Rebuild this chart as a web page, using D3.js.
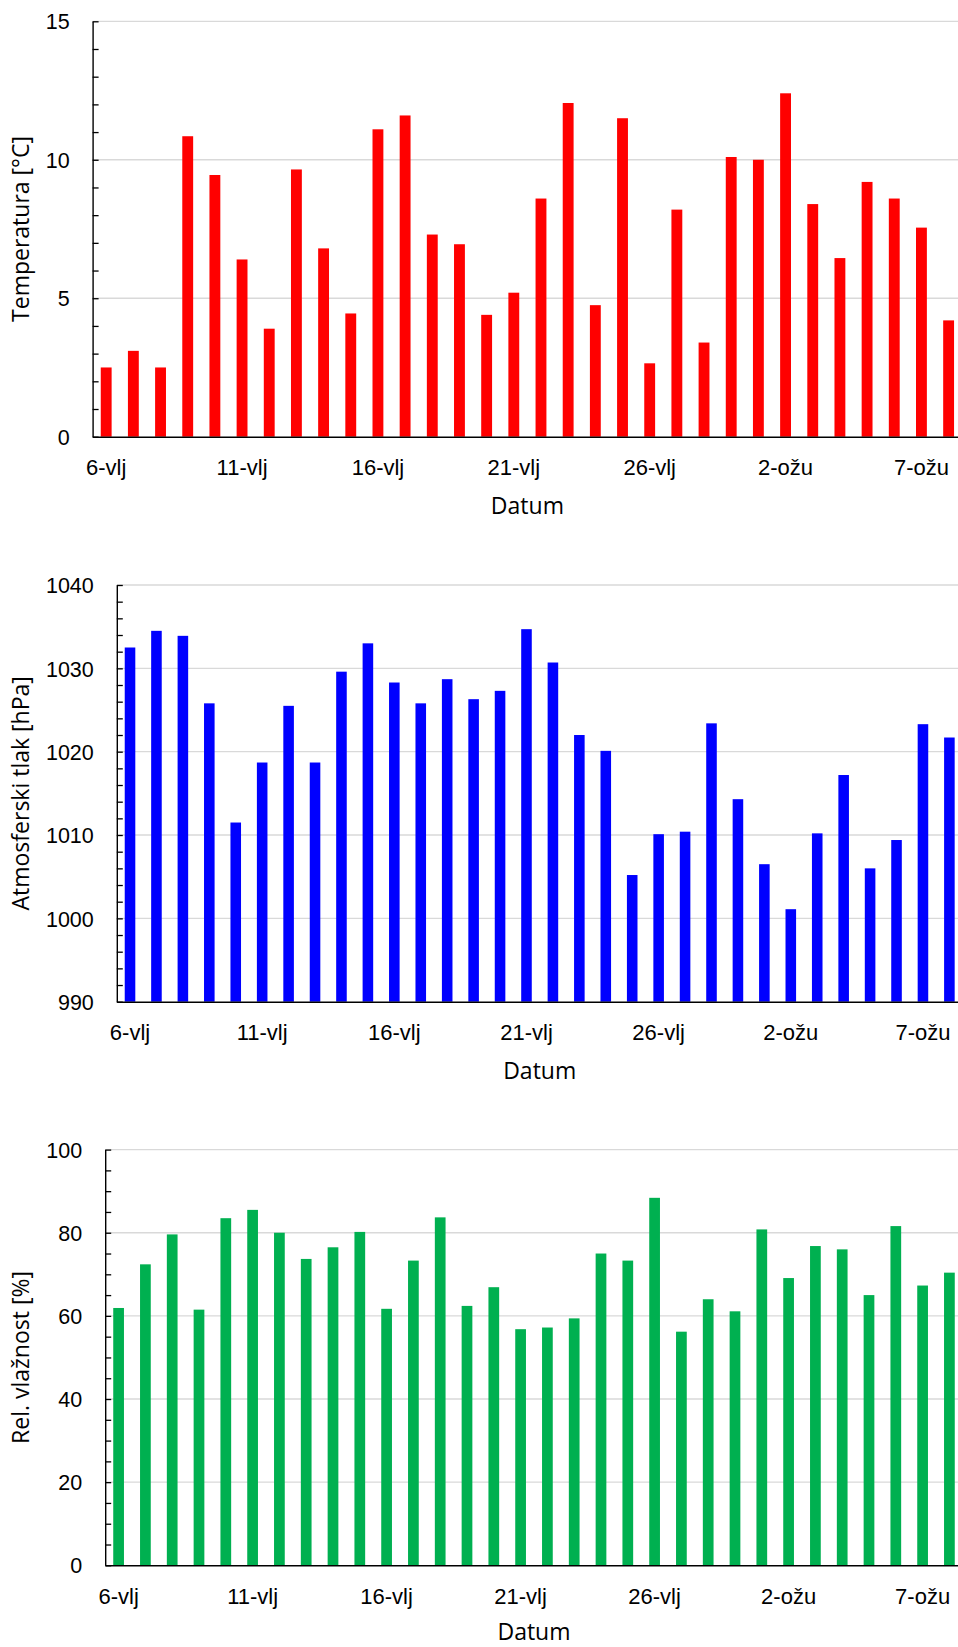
<!DOCTYPE html>
<html>
<head>
<meta charset="utf-8">
<script src="https://cdn.jsdelivr.net/npm/d3@7"></script>
<style>
  html, body { margin: 0; padding: 0; background: #fff; }
  svg { display: block; font-family: "Open Sans", "Noto Sans", sans-serif; }
</style>
</head>
<body>
<svg id="chart" width="958" height="1647"></svg>
<script>
// Daily weather observations, 6 February – 8 March
const dates = [
  "6-vlj", "7-vlj", "8-vlj", "9-vlj", "10-vlj", "11-vlj", "12-vlj", "13-vlj",
  "14-vlj", "15-vlj", "16-vlj", "17-vlj", "18-vlj", "19-vlj", "20-vlj", "21-vlj",
  "22-vlj", "23-vlj", "24-vlj", "25-vlj", "26-vlj", "27-vlj", "28-vlj", "29-vlj",
  "1-ožu", "2-ožu", "3-ožu", "4-ožu", "5-ožu", "6-ožu", "7-ožu", "8-ožu"
];
const labelledDates = ["6-vlj", "11-vlj", "16-vlj", "21-vlj", "26-vlj", "2-ožu", "7-ožu"];

// Temperature [°C]
const temperature = [
  2.5, 3.1, 2.5, 10.85, 9.45, 6.4, 3.9, 9.65,
  6.8, 4.45, 11.1, 11.6, 7.3, 6.95, 4.4, 5.2,
  8.6, 12.05, 4.75, 11.5, 2.65, 8.2, 3.4, 10.1,
  10.0, 12.4, 8.4, 6.45, 9.2, 8.6, 7.55, 4.2
];
const temperatureTicks = [0, 5, 10, 15];

// Atmospheric pressure [hPa]
const pressure = [
  1032.5, 1034.5, 1033.9, 1025.8, 1011.5, 1018.7, 1025.5, 1018.7,
  1029.6, 1033.0, 1028.3, 1025.8, 1028.7, 1026.3, 1027.3, 1034.7,
  1030.7, 1022.0, 1020.1, 1005.2, 1010.1, 1010.4, 1023.4, 1014.3,
  1006.5, 1001.1, 1010.2, 1017.2, 1006.0, 1009.4, 1023.3, 1021.7
];
const pressureTicks = [990, 1000, 1010, 1020, 1030, 1040];

// Relative humidity [%]
const humidity = [
  61.9, 72.4, 79.6, 61.5, 83.5, 85.5, 80.0, 73.7,
  76.5, 80.2, 61.7, 73.3, 83.7, 62.4, 66.9, 56.8,
  57.2, 59.4, 75.0, 73.3, 88.4, 56.2, 64.0, 61.1,
  80.8, 69.1, 76.8, 76.0, 65.0, 81.6, 67.3, 70.4
];
const humidityTicks = [0, 20, 40, 60, 80, 100];

const svg = d3.select("#chart");
const svgHeight = +svg.attr("height");

function drawPanel(cfg) {
  const { values, color, title, ticks, minorStep, left, right, top, bottom } = cfg;
  const g = svg.append("g");

  const x = d3.scaleBand()
    .domain(dates)
    .range([left, right])
    .paddingInner(0.6)
    .paddingOuter(0.3);

  const y = d3.scaleLinear()
    .domain([ticks[0], ticks[ticks.length - 1]])
    .range([bottom, top]);

  // horizontal gridlines at major values
  g.append("g")
    .selectAll("line")
    .data(ticks.slice(1))
    .join("line")
    .attr("x1", left)
    .attr("x2", right)
    .attr("y1", d => y(d))
    .attr("y2", d => y(d))
    .attr("stroke", "#d9d9d9")
    .attr("stroke-width", 1.3);

  // bars
  g.append("g")
    .selectAll("rect")
    .data(values)
    .join("rect")
    .attr("x", (d, i) => x(dates[i]))
    .attr("width", x.bandwidth())
    .attr("y", d => y(d))
    .attr("height", d => y(ticks[0]) - y(d))
    .attr("fill", color);

  // y axis: inside ticks (major + minor), labels on majors only
  const allTicks = d3.range(ticks[0], ticks[ticks.length - 1] + minorStep / 2, minorStep);
  const yAxis = d3.axisLeft(y)
    .tickValues(allTicks)
    .tickSizeInner(-6)
    .tickSizeOuter(0)
    .tickPadding(23)
    .tickFormat(d => ticks.includes(d) ? d3.format("d")(d) : "");
  const ya = g.append("g")
    .attr("transform", `translate(${left},0)`)
    .call(yAxis);
  ya.select(".domain").attr("stroke", "#000").attr("stroke-width", 1.4);
  ya.selectAll(".tick line").attr("stroke", "#000").attr("stroke-width", 1.3);
  ya.selectAll(".tick text")
    .attr("fill", "#000")
    .attr("dy", "0.357em")
    .style("font-size", "21.5px");

  // x axis: category labels every fifth day
  const xAxis = d3.axisBottom(x)
    .tickValues(labelledDates)
    .tickSizeInner(0)
    .tickSizeOuter(0)
    .tickPadding(23);
  const xa = g.append("g")
    .attr("transform", `translate(0,${bottom})`)
    .call(xAxis);
  xa.select(".domain").attr("stroke", "#000").attr("stroke-width", 1.5);
  xa.selectAll(".tick line").remove();
  xa.selectAll(".tick text")
    .attr("fill", "#000")
    .style("font-size", "22px");

  // axis titles
  g.append("text")
    .attr("transform", `translate(29,${(top + bottom) / 2}) rotate(-90)`)
    .attr("text-anchor", "middle")
    .attr("fill", "#000")
    .style("font-size", "23px")
    .text(title);

  g.append("text")
    .attr("x", (left + right) / 2)
    .attr("y", Math.min(bottom + 77, svgHeight - 7.5))
    .attr("text-anchor", "middle")
    .attr("fill", "#000")
    .style("font-size", "23px")
    .text("Datum");
}

drawPanel({
  values: temperature, color: "#ff0000", title: "Temperatura [°C]",
  ticks: temperatureTicks, minorStep: 1,
  left: 92.6, right: 962.2, top: 21.3, bottom: 436.7
});

drawPanel({
  values: pressure, color: "#0000ff", title: "Atmosferski tlak [hPa]",
  ticks: pressureTicks, minorStep: 2,
  left: 116.8, right: 962.6, top: 585, bottom: 1001.7
});

drawPanel({
  values: humidity, color: "#00b050", title: "Rel. vlažnost [%]",
  ticks: humidityTicks, minorStep: 5,
  left: 105.2, right: 962.8, top: 1149.6, bottom: 1565.3
});
</script>
</body>
</html>
